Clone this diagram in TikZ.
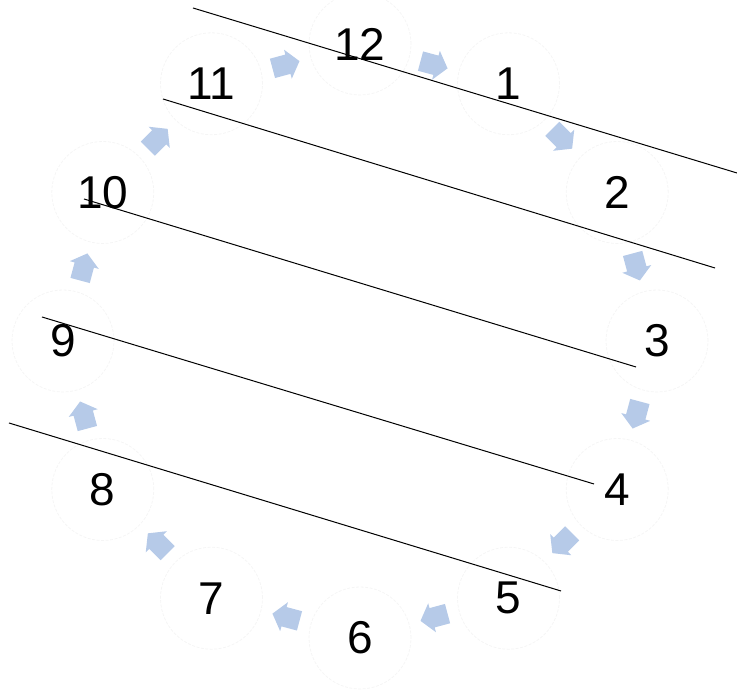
\documentclass[tikz,border=0pt]{standalone}
\usepackage{fontspec}
\setmainfont{Liberation Sans}
\usetikzlibrary{calc}
\definecolor{arrowblue}{RGB}{182,202,232}
\definecolor{ringgray}{RGB}{245,245,245}
\tikzset{
  num/.style={circle, draw=ringgray, line width=0.8pt, dash pattern=on 3pt off 1.5pt,
    minimum size=102pt, inner sep=0pt, font=\fontsize{46}{46}\selectfont, text=black},
  sepline/.style={draw=black, line width=1pt},
  blockarrow/.pic={\fill[arrowblue] (-14,-10) -- (2,-10) -- (2,-15) -- (14,0) -- (2,15) -- (2,10) -- (-14,10) -- cycle;}
}
\begin{document}
\begin{tikzpicture}[x=1pt,y=1pt]
\useasboundingbox (0,0) rectangle (737,692);
\coordinate (c) at (360,351);
% number rings
\foreach \k in {1,...,12}{
  \pgfmathsetmacro{\ang}{90-30*\k}
  \node[num] (n\k) at ($(c)+(\ang:297)$) {\k};
}
% block arrows between the numbers (clockwise)
\foreach \k in {0,...,11}{
  \pgfmathsetmacro{\th}{30*\k+15}
  \pgfmathsetmacro{\ang}{90-\th}
  \coordinate (a\k) at ($(c)+(\ang:286)$);
  \path (a\k) pic[rotate=-\th] {blockarrow};
}
% parallel lines
\coordinate (l1a) at (193,684); \coordinate (l1b) at (737,519);
\coordinate (l2a) at (163,593); \coordinate (l2b) at (715,424);
\coordinate (l3a) at (84,493);  \coordinate (l3b) at (636,325);
\coordinate (l4a) at (42,375);  \coordinate (l4b) at (594,208);
\coordinate (l5a) at (9,269);   \coordinate (l5b) at (561,101);
\foreach \i in {1,...,5}{ \draw[sepline] (l\i a) -- (l\i b); }
\end{tikzpicture}
\end{document}
